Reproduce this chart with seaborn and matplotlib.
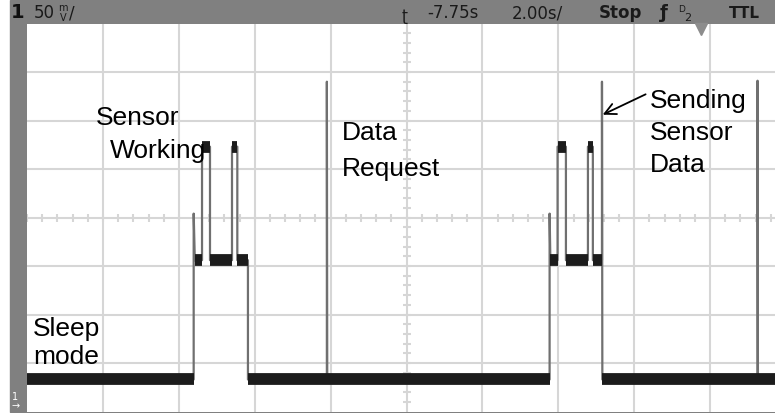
import numpy as np
import pandas as pd
import matplotlib
matplotlib.use('Agg')
import matplotlib.pyplot as plt
import seaborn as sns

W, H = 775, 414

# scope trace corners: time (s) and level (mV), 2 s/div, 50 mV/div, centre -7.75 s
trace_t = [-17.75, -13.36, -13.36, -13.33, -13.14, -13.14, -12.93, -12.93,
           -12.35, -12.35, -12.21, -12.21, -11.93, -11.93, -9.85, -9.85,
           -9.84, -3.98, -3.98, -3.96, -3.77, -3.77, -3.55, -3.55,
           -2.97, -2.97, -2.84, -2.84, -2.60, -2.60, -2.59, 1.50,
           1.50, 1.51, 1.96]
trace_v = [-167, -167, 4, -44, -44, 73, 73, -44,
           -44, 73, 73, -44, -44, -167, -167, 140,
           -167, -167, 4, -44, -44, 73, 73, -44,
           -44, 73, 73, -44, -44, 140, -167, -167,
           141, -167, -167]

# annotation lines: text, left px, centre px
notes = [("Sensor", 96, 118), ("Working", 110, 151),
         ("Data", 342, 133), ("Request", 342, 169),
         ("Sending", 650, 101), ("Sensor", 650, 133), ("Data", 650, 165),
         ("Sleep", 33, 329), ("mode", 33, 357)]

t_left, t_right = -17.75, 1.96
v_low, v_high = -200, 200
grid_col = '#d6d6d6'

sns.set_style('white')
fig = plt.figure(figsize=(W / 100, H / 100), dpi=100, facecolor='white')

def fx(x):
    return x / W

def fy(y):
    return 1 - y / H

# gray frame of the scope screen
fig.patches.append(plt.Rectangle((fx(10), fy(413)), 1 - fx(10), fy(1) - fy(413),
                                 transform=fig.transFigure, color='#808080', zorder=-5))

ax = fig.add_axes([fx(27.1), fy(412.5), fx(775) - fx(27.1), fy(24.5) - fy(412.5)])
ax.set_zorder(1)
ax.set_facecolor('white')
ax.set_xlim(t_left, t_right)
ax.set_ylim(v_low, v_high)
for s in ax.spines.values():
    s.set_visible(False)
ax.set_xticks([])
ax.set_yticks([])

# graticule
for gx in np.arange(t_left + 2, t_right, 2):
    ax.axvline(gx, color=grid_col, lw=1.5, zorder=1)
for gy in range(-150, 200, 50):
    ax.axhline(gy, color=grid_col, lw=1.5, zorder=1)
tx = np.arange(t_left, t_right, 0.4)
ax.plot(tx, np.zeros_like(tx), ls='none', marker='|', ms=6, mew=1.5, color=grid_col, zorder=1)
ty = np.arange(v_low + 10, v_high, 10)
ax.plot(np.full_like(ty, -7.75, dtype=float), ty, ls='none', marker='_', ms=6, mew=1.5,
        color=grid_col, zorder=1)

# trace: thin edges, then thick noisy flat levels
df = pd.DataFrame({'t': trace_t, 'v': trace_v})
sns.lineplot(data=df, x='t', y='v', sort=False, estimator=None, ax=ax,
             color='#707070', lw=1.6, zorder=3)
for i in range(len(trace_t) - 1):
    if trace_v[i] == trace_v[i + 1] and trace_t[i + 1] - trace_t[i] > 0.05:
        ax.plot(trace_t[i:i + 2], trace_v[i:i + 2], color='#1c1c1c', lw=8.5,
                solid_capstyle='butt', zorder=4)
ax.set_xlabel('')
ax.set_ylabel('')

for txt, x, y in notes:
    fig.text(fx(x), fy(y), txt, fontsize=19, family='Liberation Sans',
             ha='left', va='center', color='black', zorder=10)

ax.annotate('', xy=(-2.58, 106), xytext=(-1.45, 127),
            arrowprops=dict(arrowstyle='->', color='black', lw=1.3, mutation_scale=20,
                            shrinkA=0, shrinkB=0))

# top status bar
bar = dict(fontsize=12, color='#1a1a1a', va='center', family='DejaVu Sans')
fig.text(fx(11), fy(13), '1', fontsize=14, fontweight='bold', color='#111111', va='center')
fig.text(fx(34), fy(13), '50', **bar)
fig.text(fx(63), fy(8), 'm', fontsize=7, color='#1a1a1a', va='center', ha='center')
fig.text(fx(63), fy(18), 'V', fontsize=7, color='#1a1a1a', va='center', ha='center')
fig.text(fx(69), fy(13), '/', **bar)
fig.text(fx(405), fy(16), 'ʈ', fontsize=11, color='#1a1a1a', va='center', ha='center')
fig.text(fx(427), fy(13), '-7.75s', **bar)
fig.text(fx(512), fy(13), '2.00s/', **bar)
fig.text(fx(599), fy(13), 'Stop', fontsize=12, fontweight='bold', color='#1a1a1a', va='center')
fig.text(fx(664), fy(13), 'ƒ', fontsize=13, fontweight='bold', color='#1a1a1a', va='center', ha='center')
fig.text(fx(678), fy(9), 'D', fontsize=6.5, color='#1a1a1a', va='center')
fig.text(fx(684), fy(18), '2', fontsize=8, color='#1a1a1a', va='center')
fig.text(fx(729), fy(13), 'TTL', fontsize=11, fontweight='bold', color='#1a1a1a', va='center')
ax.plot([0], [v_high - 6], marker='v', ms=8, color='#8c8c8c', clip_on=False, zorder=5)

# ground marker on the left strip
fig.text(fx(15), fy(397), '1', fontsize=7, color='white', ha='center', va='center')
fig.text(fx(16), fy(406), '→', fontsize=7, color='white', ha='center', va='center')

fig.savefig('out.png', dpi=100, facecolor=fig.get_facecolor())
